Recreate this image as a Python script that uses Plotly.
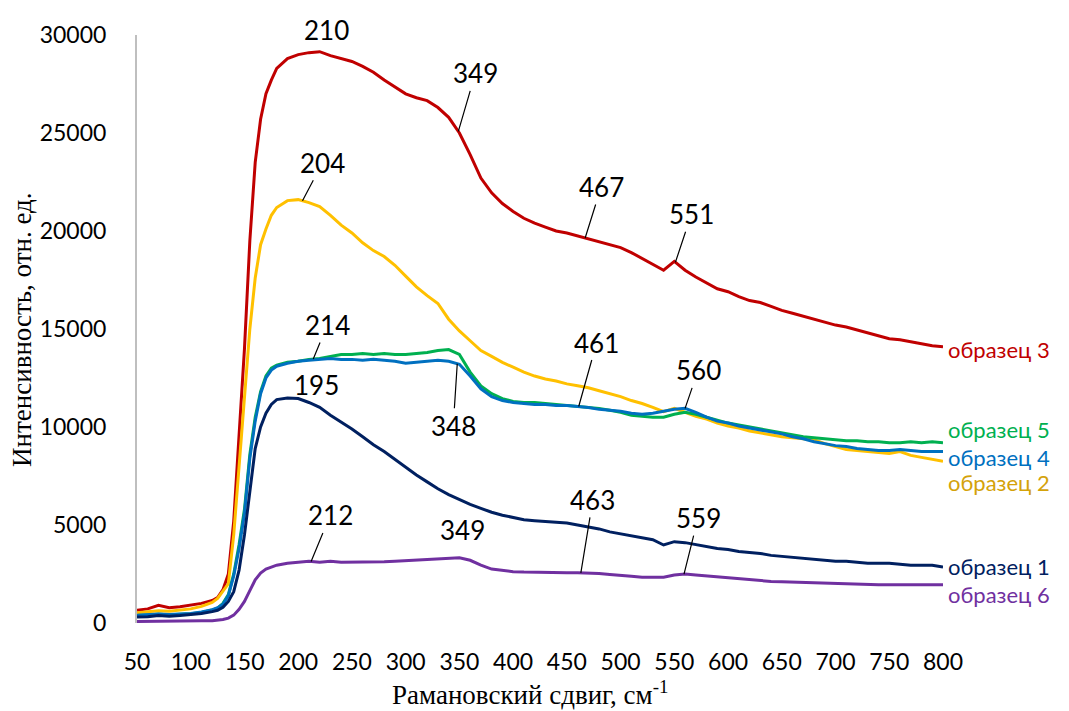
import numpy as np
import plotly.graph_objects as go

# Raman shift, cm^-1
X = [50, 60, 70, 80, 90, 100, 110, 120, 125, 130, 135, 140, 145, 150, 155, 160, 165, 170, 175, 180,
     190, 200, 210, 220, 230, 240, 250, 260, 270, 280, 290, 300, 310, 320, 330, 340, 350, 360, 370, 380,
     390, 400, 410, 420, 430, 440, 450, 460, 470, 480, 490, 500, 510, 520, 530, 540, 550, 560, 570, 580,
     590, 600, 610, 620, 630, 640, 650, 660, 670, 680, 690, 700, 710, 720, 730, 740, 750, 760, 770, 780,
     790, 800]

s1 = [300, 320, 380, 350, 380, 420, 480, 580, 650, 800, 1100, 1600, 2700, 4500, 6800, 8900, 10000, 10700, 11150, 11400,
      11480, 11450, 11250, 11000, 10600, 10250, 9900, 9500, 9100, 8750, 8350, 7950, 7550, 7200, 6850, 6550, 6300, 6050, 5850, 5650,
      5500, 5400, 5270, 5220, 5180, 5140, 5100, 5000, 4900, 4800, 4650, 4550, 4450, 4350, 4250, 3980, 4150, 4100, 4000, 3900,
      3800, 3750, 3650, 3600, 3550, 3450, 3400, 3350, 3300, 3250, 3200, 3150, 3150, 3100, 3050, 3050, 3050, 3000, 2950, 2950,
      2950, 2850]

s2 = [520, 560, 620, 600, 660, 720, 850, 1050, 1250, 1600, 2000, 4500, 8000, 11500, 15000, 17600, 19300, 20100, 20800, 21200,
      21550, 21600, 21450, 21250, 20800, 20300, 19900, 19400, 19000, 18700, 18250, 17700, 17150, 16700, 16300, 15500, 14900, 14400, 13900, 13600,
      13300, 13050, 12800, 12600, 12450, 12350, 12200, 12100, 12000, 11850, 11700, 11550, 11350, 11200, 11000, 10780, 10950, 10750, 10550, 10400,
      10200, 10050, 9950, 9800, 9700, 9600, 9500, 9450, 9400, 9350, 9150, 9000, 8850, 8800, 8750, 8700, 8650, 8750, 8550, 8450,
      8350, 8250]

s3 = [650, 720, 900, 780, 830, 900, 1000, 1150, 1300, 1700, 2500, 5200, 9800, 14000, 19500, 23500, 25700, 27000, 27700, 28300,
      28800, 29000, 29100, 29150, 28950, 28800, 28650, 28400, 28100, 27700, 27350, 27000, 26800, 26650, 26300, 25800, 25000, 23900, 22700, 21950,
      21400, 21000, 20650, 20400, 20200, 20000, 19900, 19750, 19600, 19450, 19300, 19150, 18900, 18600, 18300, 18000, 18450, 18000, 17650, 17350,
      17050, 16900, 16650, 16450, 16350, 16150, 15950, 15800, 15650, 15500, 15350, 15200, 15100, 14950, 14800, 14650, 14500, 14450, 14350, 14250,
      14150, 14100]

s4 = [400, 420, 460, 430, 450, 480, 560, 680, 780, 950, 1400, 2400, 3800, 5600, 8400, 10300, 11700, 12500, 12900, 13100,
      13250, 13350, 13400, 13450, 13500, 13450, 13450, 13400, 13450, 13400, 13350, 13250, 13300, 13350, 13400, 13350, 13200, 12600, 11950, 11550,
      11350, 11250, 11200, 11150, 11150, 11100, 11100, 11050, 11000, 10900, 10850, 10800, 10700, 10650, 10700, 10800, 10900, 10950, 10750, 10500,
      10300, 10200, 10050, 9950, 9850, 9750, 9650, 9500, 9400, 9250, 9150, 9050, 9000, 8900, 8850, 8800, 8800, 8850, 8800, 8750,
      8750, 8750]

s5 = [380, 400, 450, 420, 440, 470, 540, 660, 760, 1000, 1450, 2500, 4000, 5800, 8600, 10500, 11800, 12600, 13000, 13150,
      13300, 13350, 13450, 13500, 13600, 13700, 13700, 13750, 13700, 13750, 13700, 13700, 13750, 13800, 13900, 13950, 13700, 12800, 12100, 11700,
      11450, 11300, 11250, 11250, 11200, 11150, 11100, 11050, 11000, 10950, 10850, 10750, 10600, 10550, 10500, 10500, 10650, 10750, 10650, 10500,
      10350, 10200, 10100, 10000, 9900, 9800, 9700, 9600, 9500, 9450, 9400, 9350, 9300, 9300, 9250, 9250, 9200, 9200, 9250, 9200,
      9250, 9200]

s6 = [80, 80, 90, 90, 100, 100, 110, 120, 140, 180, 250, 400, 700, 1100, 1650, 2200, 2550, 2750, 2850, 2950,
      3050, 3100, 3150, 3100, 3150, 3100, 3100, 3120, 3130, 3130, 3150, 3180, 3200, 3230, 3270, 3320, 3330, 3200, 2950, 2750,
      2680, 2620, 2600, 2600, 2600, 2580, 2570, 2560, 2550, 2530, 2480, 2420, 2380, 2340, 2320, 2330, 2450, 2500, 2450, 2400,
      2350, 2300, 2250, 2200, 2150, 2120, 2100, 2080, 2060, 2040, 2020, 2000, 1980, 1960, 1950, 1950, 1950, 1950, 1940, 1940,
      1950, 1950]

SERIES_NAMES = ["образец 1", "образец 2", "образец 3", "образец 4", "образец 5", "образец 6"]
SERIES_DATA = [s1, s2, s3, s4, s5, s6]

# Peak annotations: label text, series index, wavenumber
PEAK_TEXT = ["210", "349", "467", "551", "204", "214", "348", "461", "560", "195", "212", "349", "463", "559"]
PEAK_SERIES = [2, 2, 2, 2, 1, 4, 3, 3, 3, 0, 5, 5, 5, 5]
PEAK_X = [210, 349, 467, 551, 204, 214, 348, 461, 560, 195, 212, 349, 463, 559]

Y_TICKS = [0, 5000, 10000, 15000, 20000, 25000, 30000]
X_TICKS = list(range(50, 801, 50))

# ---- styling ----
line_colors = ["#002060", "#FFC000", "#C00000", "#0070C0", "#00B050", "#7030A0"]
label_colors = ["#002060", "#D4A20A", "#C00000", "#0070C0", "#00B050", "#7030A0"]
draw_order = [2, 1, 4, 3, 0, 5]
# right-side label vertical centre (data units) for each series
label_y = [2860, 7150, 13930, 8450, 9850, 1430]
# annotation offsets in px (text centre relative to point) and leader flag
peak_offsets = [(18, -23, False), (17, -58, True), (16, -51, True), (16, -48, True),
                (20, -38, True), (14, -34, True), (-4, 62, True), (18, -64, True),
                (13, -38, True), (24, -13, False), (19, -46, True), (4, -28, False),
                (12, -73, True), (14, -56, True)]

fig = go.Figure()
for i in draw_order:
    fig.add_trace(go.Scatter(x=X, y=SERIES_DATA[i], mode="lines", name=SERIES_NAMES[i],
                             line=dict(color=line_colors[i], width=3), showlegend=False))

ann_font = dict(family="Lato, Open Sans, sans-serif", size=26, color="#000000")
for txt, si, px_, (dx, dy, leader) in zip(PEAK_TEXT, PEAK_SERIES, PEAK_X, peak_offsets):
    py_ = float(np.interp(px_, X, SERIES_DATA[si]))
    if leader:
        fig.add_annotation(x=px_, y=py_, text=txt, showarrow=True, arrowhead=0, arrowwidth=1.2,
                           arrowcolor="#000000", ax=dx, ay=dy, font=ann_font, standoff=0)
    else:
        fig.add_annotation(x=px_, y=py_, text=txt, showarrow=False, xshift=dx, yshift=-dy,
                           font=ann_font)

for i in range(6):
    fig.add_annotation(x=X[-1], y=label_y[i], text=SERIES_NAMES[i], showarrow=False,
                       xanchor="left", xshift=4, borderpad=0,
                       font=dict(family="Lato, Open Sans, sans-serif", size=22, color=label_colors[i]))

fig.add_annotation(xref="paper", yref="paper", x=-0.1427, y=0.5, xanchor="center", yanchor="middle",
                   text="Интенсивность, отн. ед.", textangle=-90, showarrow=False,
                   font=dict(family="Liberation Serif, Times New Roman, serif", size=27, color="#000000"))
fig.add_annotation(xref="paper", yref="paper", x=0.487, y=-0.119, xanchor="center", yanchor="middle",
                   text="Рамановский сдвиг, см<sup>-1</sup>", showarrow=False,
                   font=dict(family="Liberation Serif, Times New Roman, serif", size=27, color="#000000"))

tick_font = dict(family="Lato, Open Sans, sans-serif", size=23, color="#000000")
fig.update_layout(
    width=1069, height=711,
    margin=dict(l=137, r=126, t=35, b=88),
    paper_bgcolor="white", plot_bgcolor="white",
    xaxis=dict(range=[50, 800], tickvals=X_TICKS, showgrid=False, zeroline=False,
               showline=False, ticks="", tickfont=tick_font, ticklabelstandoff=23),
    yaxis=dict(range=[0, 30000], tickvals=Y_TICKS, tickformat="d", showgrid=False, zeroline=False,
               showline=True, linecolor="#BFBFBF", linewidth=2, ticks="", tickfont=tick_font,
               ticklabelstandoff=24),
)
fig.write_html("out.html", config={"displayModeBar": False},
               post_script="document.body.style.margin='0';")
